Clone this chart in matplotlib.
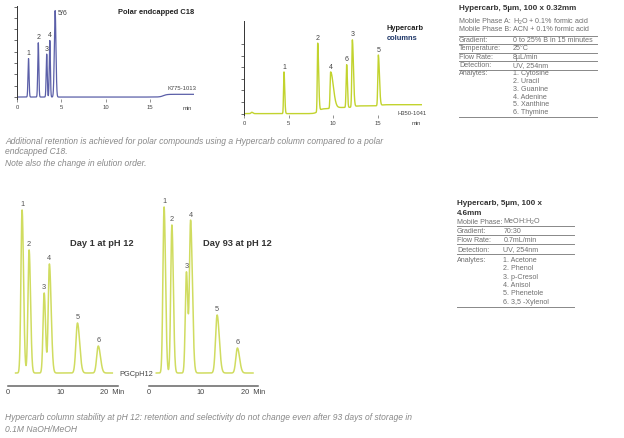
import numpy as np
import matplotlib
matplotlib.use("Agg")
import matplotlib.pyplot as plt

plt.rcParams['font.family'] = ['Liberation Sans', 'DejaVu Sans']
plt.rcParams['mathtext.fontset'] = 'custom'
plt.rcParams['mathtext.rm'] = 'Liberation Sans'
plt.rcParams['mathtext.default'] = 'regular'

# ---- data ----
# top left: polar endcapped C18 (time in min, height in arbitrary units)
c18_times = [1.3, 2.4, 3.35, 3.7, 4.3]
c18_heights = [34, 48, 38, 50, 76.5]
c18_sigma = [0.06, 0.06, 0.06, 0.06, 0.09]
c18_labels = ['1', '2', '3', '4', '5/6']
c18_drift_t = [16.5]
c18_drift_h = [2.4]

# top middle: Hypercarb capillary column
hc_times = [0.83, 4.46, 8.25, 9.7, 11.5, 12.14, 15.06]
hc_heights = [1.2, 36, 59, 31.5, 37, 58, 43.7]
hc_sigma_l = [0.08, 0.05, 0.05, 0.06, 0.06, 0.06, 0.06]
hc_sigma_r = [0.12, 0.08, 0.10, 0.30, 0.08, 0.12, 0.12]
hc_labels = ['', '1', '2', '4', '6', '3', '5']
hc_drift_t = [8.3, 10.0, 12.3, 15.3]
hc_drift_h = [4.3, 1.0, 1.4, 1.0]

# bottom: pH 12 stability, day 1 and day 93
day1_times = [2.65, 4.0, 6.9, 7.9, 13.3, 17.3]
day1_heights = [163, 123, 80, 109, 50, 27]
day93_times = [2.9, 4.4, 7.2, 8.0, 13.1, 17.0]
day93_heights = [166, 148, 101, 152, 58, 25]
ph_sigma_l = [0.22, 0.22, 0.22, 0.22, 0.3, 0.3]
ph_sigma_r = [0.28, 0.28, 0.26, 0.34, 0.42, 0.42]
ph_labels = ['1', '2', '3', '4', '5', '6']

top_conditions = [("Mobile Phase A:", "H$_2$O + 0.1% formic acid"),
                  ("Mobile Phase B:", "ACN + 0.1% formic acid"),
                  ("Gradient:", "0 to 25% B in 15 minutes"),
                  ("Temperature:", "25°C"),
                  ("Flow Rate:", "8µL/min"),
                  ("Detection:", "UV, 254nm")]
top_analytes = ["Cytosine", "Uracil", "Guanine", "Adenine", "Xanthine", "Thymine"]

bottom_conditions = [("Mobile Phase:", "MeOH:H$_2$O"),
                     ("Gradient:", "70:30"),
                     ("Flow Rate:", "0.7mL/min"),
                     ("Detection:", "UV, 254nm")]
bottom_analytes = ["Acetone", "Phenol", "p-Cresol", "Anisol", "Phenetole", "3,5 -Xylenol"]

W, H = 624, 438
fig = plt.figure(figsize=(W / 100, H / 100), dpi=100)
fig.patch.set_facecolor('white')


def rect(x0, y0, x1, y1):
    # pixel box (top-left origin) -> figure fraction
    return [x0 / W, 1 - y1 / H, (x1 - x0) / W, (y1 - y0) / H]


def ftext(x, y, s, **kw):
    kw.setdefault('va', 'center')
    fig.text(x / W, 1 - y / H, s, **kw)


def hline(x0, x1, y):
    fig.add_artist(plt.Line2D([x0 / W, x1 / W], [1 - y / H] * 2, color='#888', lw=0.7))


def trace(t, times, heights, sl, sr, dt=(), dh=()):
    y = np.zeros_like(t)
    for t0, h, a, b in zip(times, heights, sl, sr):
        s = np.where(t < t0, a, b)
        y += h * np.exp(-0.5 * ((t - t0) / s) ** 2)
    for t0, h in zip(dt, dh):
        y += h * 0.5 * (1 + np.tanh((t - t0) / 0.4))
    return y


def style_top(ax):
    for s in ['top', 'right', 'bottom']:
        ax.spines[s].set_visible(False)
    ax.spines['left'].set_color('#333')
    ax.spines['left'].set_linewidth(0.7)
    ax.set_xticks([0, 5, 10, 15])
    ax.tick_params(axis='x', length=2.5, width=0.5, color='#666', labelsize=4.2,
                   labelcolor='#444', pad=1.5)
    ax.tick_params(axis='y', length=2, width=0.5, color='#333', labelleft=False)
    ax.set_yticks(np.arange(0, 81, 10))
    ax.set_facecolor('none')


# ---- top left: C18 ----
ax1 = fig.add_axes(rect(17, 6, 17 + 20 * 8.87, 99.3))
t = np.linspace(0, 20.2, 3000)
y1 = trace(t, c18_times, c18_heights, c18_sigma, c18_sigma, c18_drift_t, c18_drift_h)
ax1.plot(t, y1, color='#5b5fa8', lw=0.9)
ax1.set_xlim(0, 20)
ax1.set_ylim(-2, 80.5)
style_top(ax1)
for tt, hh, lab in zip(c18_times, c18_heights, c18_labels):
    if lab == '5/6':
        ax1.annotate(lab, (tt, hh), xytext=(2, -2), textcoords='offset points',
                     ha='left', va='center', fontsize=5, color='#444')
    else:
        ax1.annotate(lab, (tt, hh), xytext=(0, 1), textcoords='offset points',
                     ha='center', va='bottom', fontsize=5, color='#444')
ax1.text(19.2, -7.5, 'min', fontsize=4.2, color='#444', ha='center', va='top')
ftext(118, 13, 'Polar endcapped C18', fontsize=5.4, fontweight='bold', color='#222')
ftext(167, 89, 'K775-1013', fontsize=4.2, color='#444')

# ---- top middle: Hypercarb ----
ax2 = fig.add_axes(rect(244.3, 21, 244.3 + 20 * 8.9, 115))
t2 = np.linspace(0, 20, 3000)
y2 = trace(t2, hc_times, hc_heights, hc_sigma_l, hc_sigma_r, hc_drift_t, hc_drift_h)
ax2.plot(t2, y2, color='#c2d32e', lw=1.0)
ax2.set_xlim(0, 20)
ax2.set_ylim(-1.2, 66.4)
style_top(ax2)
ax2.set_yticks(np.arange(0, 61, 10))
for tt, lab in zip(hc_times, hc_labels):
    if lab:
        top = trace(np.array([tt]), hc_times, hc_heights, hc_sigma_l, hc_sigma_r,
                    hc_drift_t, hc_drift_h)[0]
        ax2.annotate(lab, (tt, top), xytext=(0, 1), textcoords='offset points',
                     ha='center', va='bottom', fontsize=5, color='#444')
ax2.text(19.3, -6.5, 'min', fontsize=4.2, color='#444', ha='center', va='top')
ftext(386.7, 29, 'Hypercarb', fontsize=5.4, fontweight='bold', color='#222')
ftext(386.7, 39, 'columns', fontsize=5.4, fontweight='bold', color='#1f3768')
ftext(398, 113, 'H350-1041', fontsize=4.2, color='#444')

# ---- top table ----
tc = '#707070'
ftext(459, 8.5, 'Hypercarb, 5µm, 100 x 0.32mm', fontsize=5.8, fontweight='bold', color='#333')
row_y = [21.8, 29.8, 40.3, 48.6, 57.1, 65.6]
for (lab, val), yy in zip(top_conditions, row_y):
    ftext(459, yy, lab, fontsize=5.1, color=tc)
    ftext(513, yy, val, fontsize=5.1, color=tc)
for k, name in enumerate(top_analytes):
    yy = 73.5 + 7.85 * k
    if k == 0:
        ftext(459, yy, 'Analytes:', fontsize=5.1, color=tc)
    ftext(513, yy, f'{k + 1}. {name}', fontsize=5.1, color=tc)
for ly in [35.7, 44.3, 52.5, 61.1, 69.9, 116.5]:
    hline(459, 597, ly)

# ---- captions ----
cc = '#888'
cs = 6.15
ftext(5, 141, 'Additional retention is achieved for polar compounds using a Hypercarb column compared to a polar',
      fontsize=cs, style='italic', color=cc)
ftext(5, 152, 'endcapped C18.', fontsize=cs, style='italic', color=cc)
ftext(5, 163, 'Note also the change in elution order.', fontsize=cs, style='italic', color=cc)
ftext(5, 418, 'Hypercarb column stability at pH 12: retention and selectivity do not change even after 93 days of storage in',
      fontsize=cs, style='italic', color=cc)
ftext(5, 429, '0.1M NaOH/MeOH', fontsize=cs, style='italic', color=cc)


# ---- bottom chromatograms ----
def ph_panel(x0, times, heights, title, title_x):
    ax = fig.add_axes(rect(x0, 198, x0 + 21 * 5.2, 386))
    tt = np.linspace(1.4, 20.0, 3000)
    yy = trace(tt, times, heights, ph_sigma_l, ph_sigma_r)
    ax.plot(tt, yy, color='#d0dc60', lw=1.1)
    ax.set_xlim(0, 21)
    ax.set_ylim(-13, 175)
    for s in ['top', 'right', 'left']:
        ax.spines[s].set_visible(False)
    ax.spines['bottom'].set_color('#666')
    ax.spines['bottom'].set_linewidth(1.1)
    ax.set_yticks([])
    ax.set_xticks([0, 10, 20])
    ax.set_xticklabels(['0', '10', '20  Min'])
    ax.tick_params(axis='x', length=0, labelsize=5.3, labelcolor='#444', pad=2)
    ax.set_facecolor('none')
    for tp, hp, lab in zip(times, heights, ph_labels):
        ax.annotate(lab, (tp, hp), xytext=(0, 1.2), textcoords='offset points',
                    ha='center', va='bottom', fontsize=5.3, color='#555')
    ftext(title_x, 243, title, fontsize=6.7, fontweight='bold', color='#333')
    return ax


ph_panel(8.3, day1_times, day1_heights, 'Day 1 at pH 12', 70)
ph_panel(149, day93_times, day93_heights, 'Day 93 at pH 12', 203)
ftext(119, 374, 'PGCpH12', fontsize=5.3, color='#444')

# ---- bottom table ----
ftext(457, 203.3, 'Hypercarb, 5µm, 100 x', fontsize=5.8, fontweight='bold', color='#333')
ftext(457, 213.3, '4.6mm', fontsize=5.8, fontweight='bold', color='#333')
for (lab, val), yy in zip(bottom_conditions, [222.3, 231.7, 240.7, 250]):
    ftext(457, yy, lab, fontsize=5.1, color=tc)
    ftext(503.3, yy, val, fontsize=5.1, color=tc)
for k, name in enumerate(bottom_analytes):
    yy = 260.7 + 8.3 * k
    if k == 0:
        ftext(457, yy, 'Analytes:', fontsize=5.1, color=tc)
    ftext(503.3, yy, f'{k + 1}. {name}', fontsize=5.1, color=tc)
for ly in [226, 235.2, 244.4, 253.5, 306.7]:
    hline(457, 574, ly)

fig.savefig('out.png', dpi=100, facecolor='white')
